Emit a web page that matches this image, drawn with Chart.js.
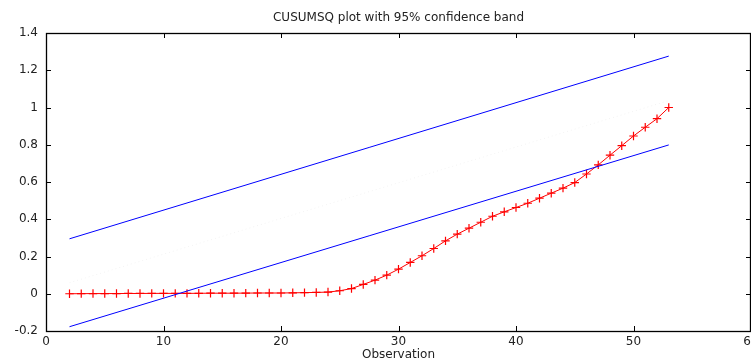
<!DOCTYPE html>
<html>
<head>
<meta charset="utf-8">
<script src="https://cdn.jsdelivr.net/npm/chart.js@4"></script>
<style>
  html, body { margin: 0; padding: 0; background: #fff; }
  #wrap { width: 751px; height: 359px; }
</style>
</head>
<body>
<div id="wrap"><canvas id="chart" width="751" height="359"></canvas></div>
<script>
// ---------- data ----------
const obs = [2, 3, 4, 5, 6, 7, 8, 9, 10, 11, 12, 13, 14, 15, 16, 17, 18, 19, 20, 21, 22, 23, 24, 25, 26, 27,
  28, 29, 30, 31, 32, 33, 34, 35, 36, 37, 38, 39, 40, 41, 42, 43, 44, 45, 46, 47, 48, 49, 50, 51, 52, 53];
const cusumsq = [0, 0.0005, 0.001, 0.001, 0.001, 0.0015, 0.0015, 0.002, 0.002, 0.002, 0.002, 0.0025, 0.003,
  0.003, 0.003, 0.0035, 0.004, 0.004, 0.004, 0.005, 0.006, 0.007, 0.009, 0.016, 0.028, 0.05, 0.073, 0.1,
  0.132, 0.168, 0.204, 0.243, 0.284, 0.32, 0.352, 0.384, 0.416, 0.44, 0.463, 0.486, 0.513, 0.54, 0.567,
  0.597, 0.643, 0.692, 0.744, 0.795, 0.847, 0.894, 0.94, 1.0];
const bandX = [2, 53];
const upperBand = [0.295, 1.276];
const lowerBand = [-0.177, 0.799];
const midLine = [0.059, 1.037];
const xTicks = [0, 10, 20, 30, 40, 50, 60];
const yTicks = [-0.2, 0, 0.2, 0.4, 0.6, 0.8, 1, 1.2, 1.4];

const pts = (xs, ys) => xs.map((x, i) => ({ x, y: ys[i] }));
const fmt = v => String(Math.round(v * 10) / 10);
const FONT = { family: "DejaVu Sans", size: 12 };

// ---------- frame + inward ticks (gnuplot look) ----------
const framePlugin = {
  id: "frame",
  afterDraw(chart) {
    const { ctx, chartArea: a, scales } = chart;
    const tl = 5;
    ctx.save();
    ctx.strokeStyle = "#000";
    ctx.lineWidth = 1;
    ctx.beginPath();
    xTicks.forEach(v => {
      const px = Math.round(scales.x.getPixelForValue(v)) + 0.5;
      ctx.moveTo(px, a.bottom); ctx.lineTo(px, a.bottom - tl);
      ctx.moveTo(px, a.top); ctx.lineTo(px, a.top + tl);
    });
    yTicks.forEach(v => {
      const py = Math.round(scales.y.getPixelForValue(v)) + 0.5;
      ctx.moveTo(a.left, py); ctx.lineTo(a.left + tl, py);
      ctx.moveTo(a.right, py); ctx.lineTo(a.right - tl, py);
    });
    ctx.stroke();
    ctx.lineWidth = 1.3;
    ctx.strokeRect(Math.round(a.left) + 0.5, Math.round(a.top) + 0.5,
      Math.round(a.right - a.left) - 1, Math.round(a.bottom - a.top));
    ctx.restore();
  }
};

new Chart(document.getElementById("chart").getContext("2d"), {
  type: "scatter",
  data: {
    datasets: [
      {
        data: pts(bandX, midLine), showLine: true, borderColor: "rgba(0,0,0,0.05)",
        borderWidth: 1, borderDash: [1, 3], pointRadius: 0
      },
      {
        data: pts(bandX, upperBand), showLine: true, borderColor: "#0000ff",
        borderWidth: 1, pointRadius: 0
      },
      {
        data: pts(bandX, lowerBand), showLine: true, borderColor: "#0000ff",
        borderWidth: 1, pointRadius: 0
      },
      {
        data: pts(obs, cusumsq), showLine: true, borderColor: "#ff0000",
        borderWidth: 1, pointStyle: "cross", pointRadius: 4.2, pointBorderWidth: 1.2,
        pointBorderColor: "#ff0000", backgroundColor: "#ff0000"
      }
    ]
  },
  options: {
    responsive: false,
    animation: false,
    layout: { autoPadding: false, padding: { left: 0, right: 0, top: 0, bottom: 0 } },
    plugins: {
      legend: { display: false },
      tooltip: { enabled: false },
      title: {
        display: true, text: "CUSUMSQ plot with 95% confidence band", fullSize: false,
        color: "#222", font: { ...FONT, weight: "normal" }, padding: { top: 11, bottom: 7.6 }
      }
    },
    scales: {
      x: {
        type: "linear", min: 0, max: 60,
        afterBuildTicks: s => { s.ticks = xTicks.map(v => ({ value: v })); },
        afterFit: s => { s.height = 28; s.paddingLeft = 0; s.paddingRight = 0; },
        grid: { display: false, drawTicks: false },
        border: { display: false },
        ticks: { padding: 4, color: "#222", font: FONT, maxRotation: 0, callback: fmt },
        title: { display: true, text: "Observation", color: "#222", font: FONT, padding: { top: 0, bottom: -3 } }
      },
      y: {
        type: "linear", min: -0.2, max: 1.4,
        afterBuildTicks: s => { s.ticks = yTicks.map(v => ({ value: v })); },
        afterFit: s => { s.width = 46; s.paddingTop = 0; s.paddingBottom = 0; },
        grid: { display: false, drawTicks: false },
        border: { display: false },
        ticks: { padding: 8, color: "#222", font: FONT, callback: fmt }
      }
    }
  },
  plugins: [framePlugin]
});
</script>
</body>
</html>
